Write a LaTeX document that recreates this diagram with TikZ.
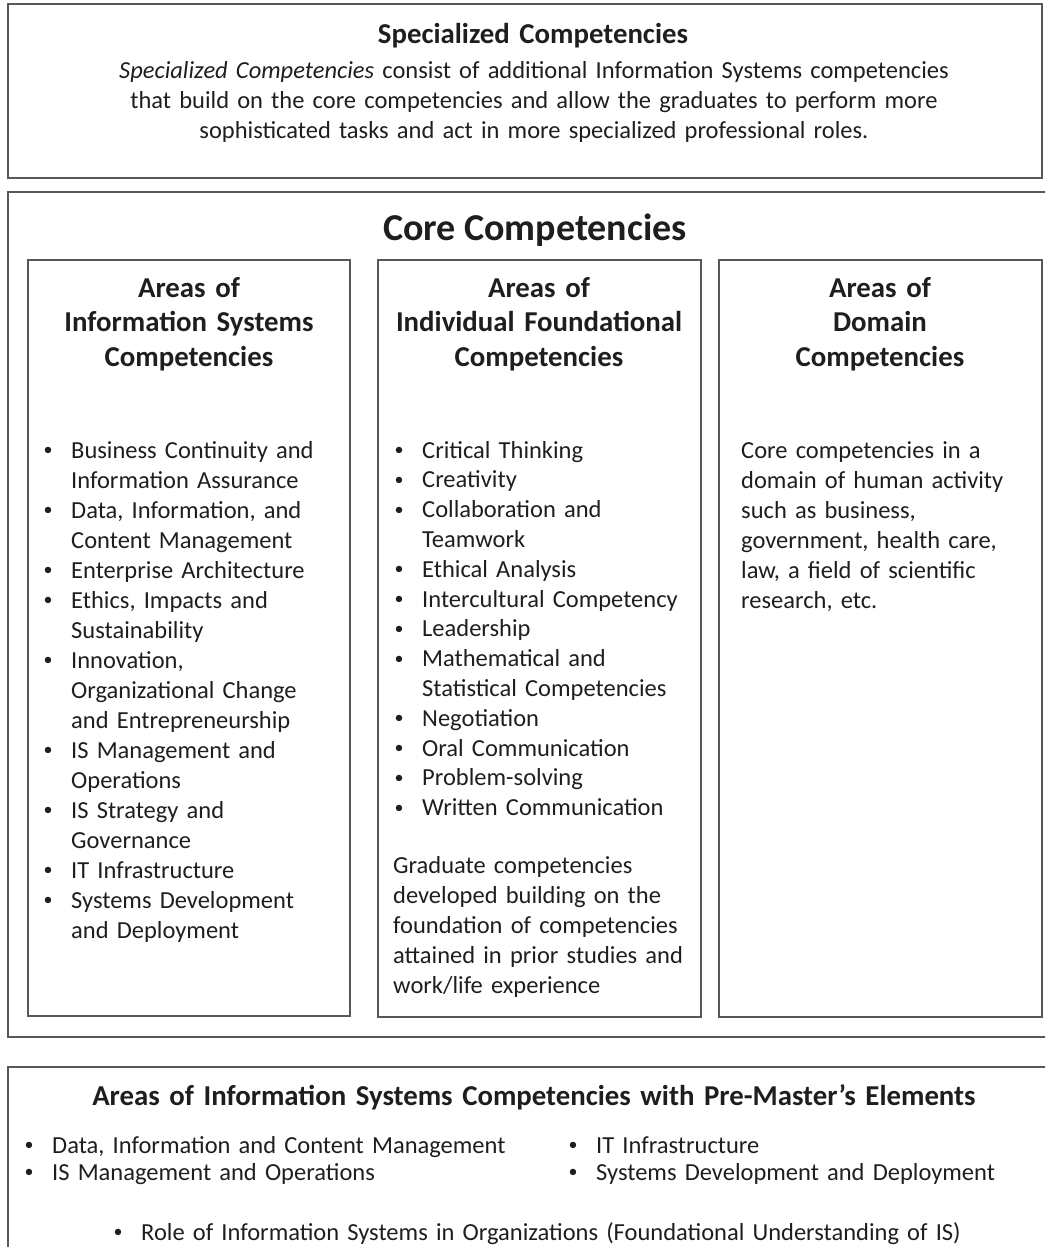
\documentclass[tikz,border=0pt]{standalone}
\usepackage{fontspec}
\setmainfont{Carlito}
\newcommand\bodysize{\fontsize{24.5}{30}\selectfont}
\newcommand\headsize{\fontsize{28.8}{34.5}\selectfont\bfseries}
\newcommand\bul{\hspace{1.5pt}\raisebox{2.3pt}{\fontsize{18}{18}\selectfont•}}
\newcommand\nl{\hfil\break}
\newcommand\bitem[1]{\hangindent=29pt\hangafter=1\makebox[29pt][l]{\bul}#1\par}
\definecolor{ink}{HTML}{1E1E1E}
\definecolor{frame}{HTML}{585858}
\tikzset{
  box/.style={draw=frame, line width=1.4pt},
  bodytext/.style={inner sep=0pt, anchor=base west, text width=#1, align=left, font=\bodysize, text=ink},
  headtext/.style={inner sep=0pt, anchor=base, text width=#1, align=center, font=\headsize, text=ink},
}
\begin{document}
\begin{tikzpicture}[x=1pt,y=-1pt]
\useasboundingbox (0,0) rectangle (1045,1247);
\clip (0,0) rectangle (1045,1247);
% boxes
\draw[box] (8,4) rectangle (1042,178);
\draw[box] (8,192) rectangle (1060,1037);
\draw[box] (28,260) rectangle (350,1016);
\draw[box] (378,260) rectangle (701,1017);
\draw[box] (719,260) rectangle (1042,1017);
\draw[box] (8,1067) rectangle (1060,1270);
% top box
\node[headtext=900] (spectitle) at (533,44) {Specialized Competencies};
\node[inner sep=0pt, anchor=base, text width=1000, align=center, font=\bodysize, text=ink] (spectext) at (534,78)
  {\textit{Specialized Competencies} consist of additional Information Systems competencies\\
   that build on the core competencies and allow the graduates to perform more\\
   sophisticated tasks and act in more specialized professional roles.};
% core
\node[inner sep=0pt, anchor=base, font=\fontsize{38}{40}\selectfont\bfseries, text=ink] (coretitle) at (535,240) {Core Competencies};
\node[headtext=320] (h1) at (189,297) {Areas of\\Information Systems\\Competencies};
\node[headtext=320] (h2) at (539,297) {Areas of\\Individual Foundational\\Competencies};
\node[headtext=320] (h3) at (880,297) {Areas of\\Domain\\Competencies};
\node[bodytext=305] (l1) at (42,458) {%
  \bitem{Business Continuity and\nl Information Assurance}
  \bitem{Data, Information, and\nl Content Management}
  \bitem{Enterprise Architecture}
  \bitem{Ethics, Impacts and\nl Sustainability}
  \bitem{Innovation,\nl Organizational Change\nl and Entrepreneurship}
  \bitem{IS Management and\nl Operations}
  \bitem{IS Strategy and\nl Governance}
  \bitem{IT Infrastructure}
  \bitem{Systems Development\nl and Deployment}};
\node[bodytext=305, font=\fontsize{24.5}{29.8}\selectfont] (l2) at (393,458) {%
  \bitem{Critical Thinking}
  \bitem{Creativity}
  \bitem{Collaboration and\nl Teamwork}
  \bitem{Ethical Analysis}
  \bitem{Intercultural Competency}
  \bitem{Leadership}
  \bitem{Mathematical and\nl Statistical Competencies}
  \bitem{Negotiation}
  \bitem{Oral Communication}
  \bitem{Problem-solving}
  \bitem{Written Communication}};
\node[bodytext=305] (p2) at (393,873) {Graduate competencies\\developed building on the\\foundation of competencies\\attained in prior studies and\\work/life experience};
\node[bodytext=300] (p3) at (741,458) {Core competencies in a\\domain of human activity\\such as business,\\government, health care,\\law, a field of scientific\\research, etc.};
% bottom box
\node[headtext=1000] (btitle) at (534,1105) {Areas of Information Systems Competencies with Pre-Master’s Elements};
\node[bodytext=520, font=\fontsize{24.5}{27}\selectfont] (b1) at (23,1153) {%
  \bitem{Data, Information and Content Management}
  \bitem{IS Management and Operations}};
\node[bodytext=480, font=\fontsize{24.5}{27}\selectfont] (b2) at (567,1153) {%
  \bitem{IT Infrastructure}
  \bitem{Systems Development and Deployment}};
\node[bodytext=900] (b3) at (112,1240) {\bitem{Role of Information Systems in Organizations (Foundational Understanding of IS)}};
\end{tikzpicture}
\end{document}
